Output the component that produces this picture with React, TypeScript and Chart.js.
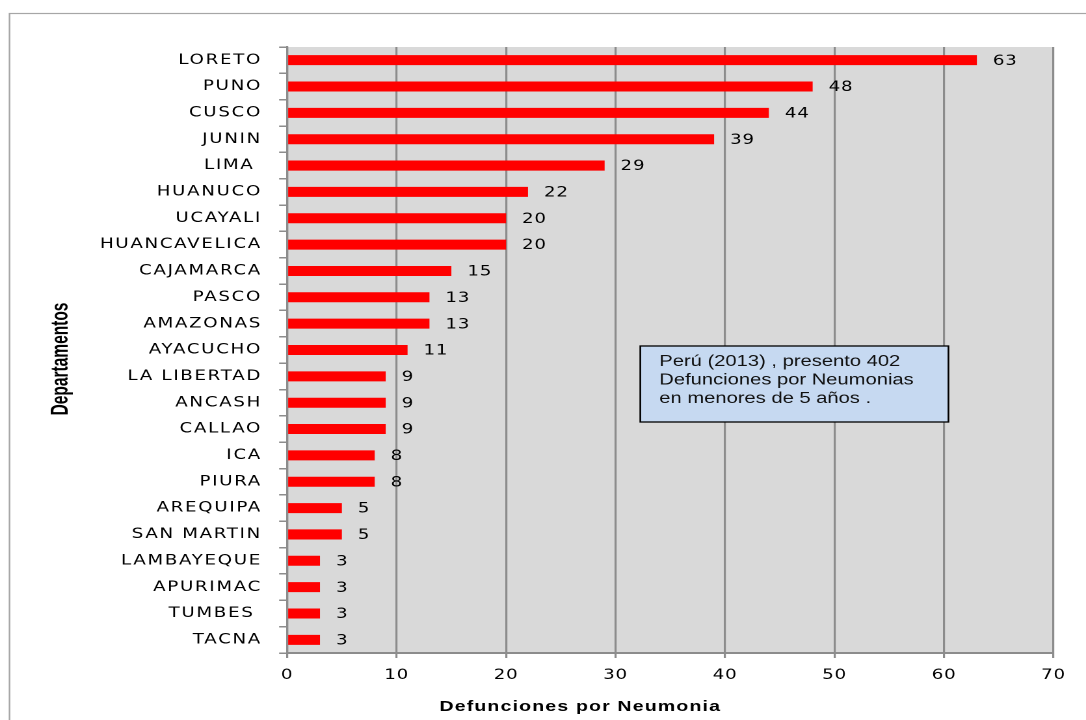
import React, { useEffect, useRef } from 'react';
import { Chart, registerables } from 'chart.js';

Chart.register(...registerables);

const departamentos = [
  'LORETO', 'PUNO', 'CUSCO', 'JUNIN', 'LIMA ', 'HUANUCO', 'UCAYALI', 'HUANCAVELICA',
  'CAJAMARCA', 'PASCO', 'AMAZONAS', 'AYACUCHO', 'LA LIBERTAD', 'ANCASH', 'CALLAO',
  'ICA', 'PIURA', 'AREQUIPA', 'SAN MARTIN', 'LAMBAYEQUE', 'APURIMAC', 'TUMBES ', 'TACNA',
];
const defunciones = [63, 48, 44, 39, 29, 22, 20, 20, 15, 13, 13, 11, 9, 9, 9, 8, 8, 5, 5, 3, 3, 3, 3];
const xMin = 0;
const xMax = 70;
const xStep = 10;
const xTitle = 'Defunciones por Neumonia';
const yTitle = 'Departamentos';
const noteLines = ['Perú (2013) , presento 402', 'Defunciones por Neumonias', 'en menores de 5 años .'];

const GRID = '#8c8c8c';
// the reference picture is horizontally stretched; render narrower and stretch
const PAGE_W = 1086;
const PAGE_H = 720;
const S = 1.3;
const W = Math.round(PAGE_W / S);
const sx = (v: number) => v / S;

export default function App() {
  const ref = useRef<HTMLCanvasElement>(null);

  useEffect(() => {
    document.body.style.margin = '0';
    const canvas = ref.current!;
    const decor = {
      id: 'decor',
      beforeDraw(chart: any) {
        const c = chart.ctx as any;
        const a = chart.chartArea;
        c.save();
        c.fillStyle = '#ffffff';
        c.fillRect(0, 0, chart.width, chart.height);
        c.strokeStyle = '#a6a6a6';
        c.lineWidth = 1.2;
        c.strokeRect(sx(9.5), 13.5, chart.width + 40, chart.height + 40);
        c.fillStyle = '#d9d9d9';
        c.fillRect(a.left, a.top, a.right - a.left, a.bottom - a.top);
        c.restore();
        c.letterSpacing = '1.3px';
      },
      afterDatasetsDraw(chart: any) {
        (chart.ctx as any).letterSpacing = '0.6px';
      },
      afterDraw(chart: any) {
        const c = chart.ctx as any;
        // value labels
        const meta = chart.getDatasetMeta(0);
        c.save();
        c.font = '14px "DejaVu Sans"';
        c.letterSpacing = '0.6px';
        c.fillStyle = '#000';
        c.textAlign = 'left';
        c.textBaseline = 'middle';
        meta.data.forEach((el: any, i: number) => {
          c.fillText(String(defunciones[i]), el.x + sx(16), el.y + 1);
        });
        c.restore();

        // x title
        c.save();
        c.letterSpacing = '0.9px';
        c.font = 'bold 15px "Liberation Sans"';
        c.fillStyle = '#000';
        c.textAlign = 'center';
        c.textBaseline = 'alphabetic';
        c.fillText(xTitle, sx(580), 711);
        c.restore();

        // y title
        c.save();
        c.letterSpacing = '0px';
        c.translate(sx(61), 359);
        c.rotate(-Math.PI / 2);
        c.scale(1, 1.2);
        c.font = 'bold 15.5px "Liberation Sans"';
        c.fillStyle = '#000';
        c.textAlign = 'center';
        c.textBaseline = 'middle';
        c.fillText(yTitle, 0, 0);
        c.restore();

        // note box
        c.save();
        c.letterSpacing = '0px';
        const bx = sx(640);
        const bw = sx(948) - bx;
        c.fillStyle = '#c6d9f1';
        c.fillRect(bx, 346, bw, 76);
        c.strokeStyle = '#000';
        c.lineWidth = 1.3;
        c.strokeRect(bx, 346, bw, 76);
        c.fillStyle = '#111';
        c.font = '15.5px "Liberation Sans"';
        c.textAlign = 'left';
        c.textBaseline = 'alphabetic';
        const baselines = [366, 384.5, 403];
        noteLines.forEach((t, i) => {
          c.fillText(t, sx(659), baselines[i]);
        });
        c.restore();
        c.letterSpacing = '0px';
      },
    };

    const chart = new Chart(canvas, {
      type: 'bar',
      data: {
        labels: departamentos,
        datasets: [
          {
            data: defunciones,
            backgroundColor: '#ff0000',
            borderWidth: 0,
            barPercentage: 0.38,
            categoryPercentage: 1,
          },
        ],
      },
      plugins: [decor],
      options: {
        indexAxis: 'y',
        responsive: false,
        animation: false,
        devicePixelRatio: 2,
        layout: { padding: { top: 47, right: W - sx(1053), left: 0, bottom: 0 } },
        plugins: { legend: { display: false }, tooltip: { enabled: false } },
        scales: {
          x: {
            min: xMin,
            max: xMax,
            ticks: {
              stepSize: xStep,
              color: '#000',
              font: { family: 'DejaVu Sans', size: 14 },
              padding: 9,
              z: 1,
              maxRotation: 0,
            },
            grid: { color: GRID, lineWidth: 1.6, tickLength: 5, drawTicks: true },
            border: { color: GRID, width: 2 },
            afterFit: (s: any) => {
              s.height = 67;
            },
          },
          y: {
            ticks: {
              color: '#000',
              font: { family: 'DejaVu Sans', size: 14 },
              padding: 13.2,
              autoSkip: false,
            },
            grid: { drawOnChartArea: false, color: GRID, lineWidth: 1.5, tickLength: sx(8), offset: true },
            border: { color: GRID, width: 1.6 },
            afterFit: (s: any) => {
              s.width = sx(287);
            },
          },
        },
      } as any,
    });
    return () => chart.destroy();
  }, []);

  return (
    <div style={{ position: 'fixed', left: 0, top: 0, width: PAGE_W, height: PAGE_H, overflow: 'hidden', background: '#fff' }}>
      <div style={{ width: W, height: PAGE_H, transform: `scaleX(${PAGE_W / W})`, transformOrigin: '0 0' }}>
        <canvas ref={ref} width={W} height={PAGE_H} style={{ width: W, height: PAGE_H, display: 'block' }} />
      </div>
    </div>
  );
}
